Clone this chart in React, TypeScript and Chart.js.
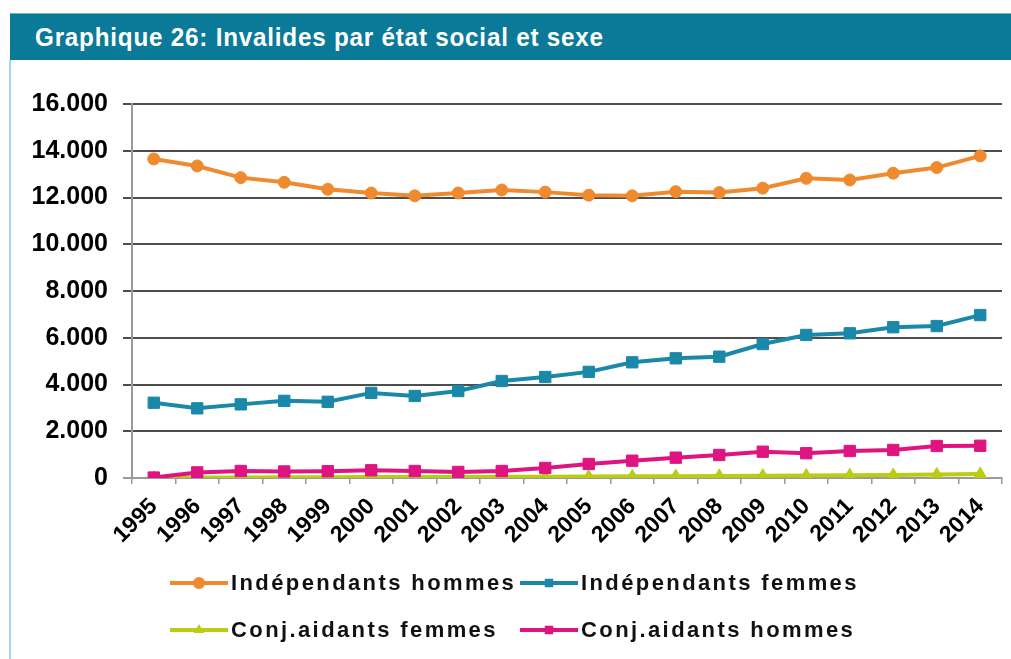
import React, { useEffect, useRef } from 'react';
import { Chart, registerables } from 'chart.js';

Chart.register(...registerables);

const years = ['1995', '1996', '1997', '1998', '1999', '2000', '2001', '2002', '2003', '2004', '2005', '2006', '2007', '2008', '2009', '2010', '2011', '2012', '2013', '2014'];
const indepHommes = [13650, 13350, 12850, 12650, 12350, 12190, 12070, 12190, 12320, 12230, 12100, 12070, 12250, 12210, 12400, 12820, 12750, 13040, 13280, 13780];
const indepFemmes = [3220, 2980, 3150, 3300, 3260, 3640, 3510, 3720, 4150, 4320, 4540, 4950, 5120, 5190, 5730, 6120, 6190, 6450, 6500, 6970];
const conjHommes = [20, 240, 300, 280, 290, 330, 300, 260, 300, 430, 600, 740, 870, 985, 1125, 1060, 1155, 1200, 1370, 1380];
const conjFemmes = [10, 20, 25, 30, 35, 40, 40, 45, 50, 55, 60, 70, 80, 90, 100, 105, 115, 125, 150, 170];
const yTicks = [0, 2000, 4000, 6000, 8000, 10000, 12000, 14000, 16000];
const seriesNames = ['Indépendants hommes', 'Indépendants femmes', 'Conj.aidants hommes', 'Conj.aidants femmes'];
const titleText = 'Graphique 26: Invalides par état social et sexe';

const ORANGE = '#ef8a2e';
const BLUE = '#1a88a8';
const PINK = '#df1480';
const GREEN = '#bccb14';

// legend layout: [datasetIndex, x, y] in canvas coordinates
const legendSlots: [number, number, number][] = [
  [0, 158, 521],
  [1, 508, 521],
  [3, 158, 568],
  [2, 508, 568],
];

function drawMarker(ctx: CanvasRenderingContext2D, style: string, x: number, y: number, r: number) {
  ctx.beginPath();
  if (style === 'circle') {
    ctx.arc(x, y, r, 0, Math.PI * 2);
  } else if (style === 'rect') {
    const s = r * Math.SQRT1_2;
    ctx.rect(x - s, y - s, 2 * s, 2 * s);
  } else if (style === 'triangle') {
    ctx.moveTo(x, y - r);
    ctx.lineTo(x + r * 0.866, y + r * 0.5);
    ctx.lineTo(x - r * 0.866, y + r * 0.5);
    ctx.closePath();
  }
  ctx.fill();
}

const legendPlugin = {
  id: 'customLegend',
  afterDraw(chart: any) {
    const ctx: CanvasRenderingContext2D = chart.ctx;
    ctx.save();
    legendSlots.forEach(([di, x, y]) => {
      const ds = chart.data.datasets[di];
      ctx.strokeStyle = ds.borderColor;
      ctx.fillStyle = ds.borderColor;
      ctx.lineWidth = 4;
      ctx.beginPath();
      ctx.moveTo(x, y);
      ctx.lineTo(x + 58, y);
      ctx.stroke();
      drawMarker(ctx, ds.pointStyle, x + 29, y, Math.min(ds.pointRadius, 6));
      ctx.fillStyle = '#111';
      ctx.font = 'bold 22px "Liberation Sans", Arial, sans-serif';
      (ctx as any).letterSpacing = '2.4px';
      ctx.textBaseline = 'middle';
      ctx.textAlign = 'left';
      ctx.fillText(ds.label, x + 61, y + 1);
      (ctx as any).letterSpacing = '0px';
    });
    ctx.restore();
  },
};

function ChartView() {
  const ref = useRef<HTMLCanvasElement | null>(null);
  useEffect(() => {
    if (!ref.current) return;
    const mk = (label: string, data: number[], color: string, style: string, r: number) => ({
      label,
      data,
      borderColor: color,
      backgroundColor: color,
      borderWidth: 4,
      pointStyle: style,
      pointRadius: r,
      pointBorderWidth: 1,
      pointBackgroundColor: color,
      pointBorderColor: color,
      tension: 0,
    });
    const chart = new Chart(ref.current, {
      type: 'line',
      data: {
        labels: years,
        datasets: [
          mk(seriesNames[0], indepHommes, ORANGE, 'circle', 6),
          mk(seriesNames[1], indepFemmes, BLUE, 'rect', 8),
          mk(seriesNames[2], conjHommes, PINK, 'rect', 8),
          mk(seriesNames[3], conjFemmes, GREEN, 'triangle', 7),
        ] as any,
      },
      options: {
        animation: false,
        responsive: false,
        maintainAspectRatio: false,
        layout: { padding: { top: 42, right: 4, left: 0, bottom: 106 } },
        plugins: {
          legend: { display: false },
          title: { display: false },
          tooltip: { enabled: false },
        },
        scales: {
          x: {
            offset: true,
            grid: {
              offset: true,
              drawOnChartArea: false,
              drawTicks: true,
              tickLength: 6,
              color: '#9a9a9a',
              lineWidth: 1.5,
            },
            border: { display: true, color: '#9a9a9a', width: 2 },
            ticks: {
              autoSkip: false,
              minRotation: 45,
              maxRotation: 45,
              padding: 9,
              color: '#000',
              font: { family: '"Liberation Sans", Arial, sans-serif', size: 23, weight: 'bold' },
            },
            afterFit: (s: any) => { s.height = 75; },
          },
          y: {
            min: 0,
            max: 16000,
            afterBuildTicks: (s: any) => { s.ticks = yTicks.map((v) => ({ value: v })); },
            grid: {
              color: (c: any) => (c.tick && c.tick.value === 0 ? '#9a9a9a' : '#4d4d4d'),
              lineWidth: 2,
              tickLength: 9,
              drawTicks: true,
            },
            border: { display: true, color: '#9a9a9a', width: 2 },
            ticks: {
              padding: 15,
              color: '#000',
              font: { family: '"Liberation Sans", Arial, sans-serif', size: 25, weight: 'bold' },
              callback: (v: any) => (v === 0 ? '0' : Number(v).toLocaleString('de-DE')),
            },
            afterFit: (s: any) => { s.width = 120; },
          },
        },
      } as any,
      plugins: [legendPlugin],
    });
    return () => chart.destroy();
  }, []);
  return <canvas ref={ref} width={999} height={597} style={{ position: 'absolute', left: 12, top: 62, width: 999, height: 597 }} />;
}

export default function App() {
  return (
    <div style={{ position: 'absolute', left: 0, top: 0, width: 1011, height: 659, background: '#fff', overflow: 'hidden' }}>
      <div style={{ position: 'absolute', left: 9, top: 60, width: 2, height: 599, background: '#a4d6ea' }} />
      <div
        style={{
          position: 'absolute',
          left: 10,
          top: 13,
          width: 1001,
          height: 47,
          background: '#0a7a98',
          borderTop: '1px solid #6fb4c8',
          boxSizing: 'border-box',
        }}
      >
        <div
          style={{
            position: 'absolute',
            left: 25,
            top: 0,
            color: '#fff',
            fontFamily: '"Liberation Sans", Arial, sans-serif',
            fontWeight: 'bold',
            fontSize: 25,
            letterSpacing: '0.8px',
            lineHeight: '46px',
            whiteSpace: 'nowrap',
            transform: 'scaleX(0.97)',
            transformOrigin: 'left center',
          }}
        >
          {titleText}
        </div>
      </div>
      <ChartView />
    </div>
  );
}
